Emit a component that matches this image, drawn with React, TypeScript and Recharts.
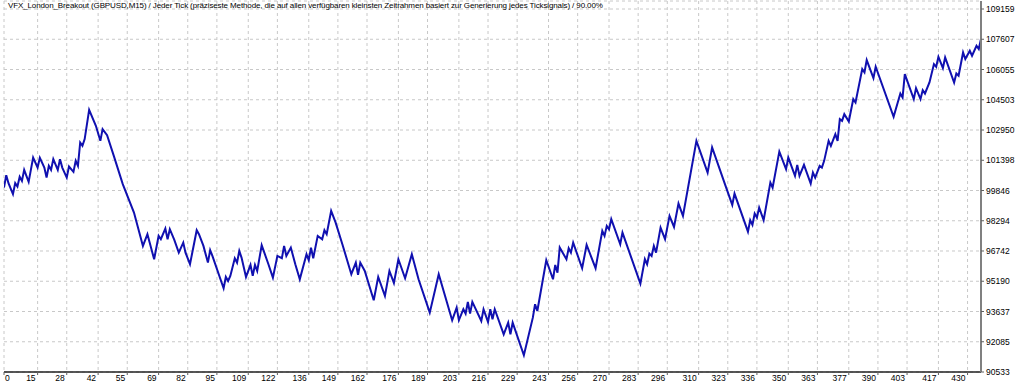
import { LineChart, Line, XAxis, YAxis, CartesianGrid } from "recharts";

const title =
  "VFX_London_Breakout (GBPUSD,M15) / Jeder Tick (präziseste Methode, die auf allen verfügbaren kleinsten Zeitrahmen basiert zur Generierung jedes Ticksignals) / 90.00%";

const xTicks = [
  0, 15, 28, 42, 55, 69, 82, 95, 109, 122, 136, 149, 162, 176, 189, 203, 216, 229, 243, 256, 270,
  283, 296, 310, 323, 336, 350, 363, 377, 390, 403, 417, 430,
];

const yTicks = [
  90533, 92085, 93637, 95190, 96742, 98294, 99846, 101398, 102950, 104503, 106055, 107607, 109159,
];

// trade number of each turning point of the balance curve
const trades = [
  0, 1, 2, 4, 5, 6, 7, 8, 9, 10, 11, 13, 15, 16, 18, 19, 20, 21, 22, 24, 25, 26, 28, 29, 31, 32,
  33, 34, 35, 36, 38, 41, 43, 44, 46, 49, 53, 58, 62, 64, 65, 67, 69, 70, 72, 73, 74, 76, 78, 80,
  81, 83, 86, 87, 89, 91, 92, 93, 98, 99, 100, 101, 103, 104, 105, 106, 108, 110, 111, 112, 113,
  115, 118, 120, 122, 124, 125, 126, 128, 130, 132, 135, 136, 137, 138, 140, 142, 143, 144, 146,
  148, 151, 155, 157, 158, 159, 161, 165, 167, 170, 172, 174, 176, 179, 182, 185, 190, 194, 200,
  202, 203, 205, 206, 207, 208, 209, 213, 214, 216, 217, 218, 219, 223, 225, 226, 227, 232, 236,
  237, 238, 242, 245, 246, 247, 248, 251, 252, 253, 254, 258, 260, 264, 267, 268, 269, 270, 271,
  275, 276, 284, 286, 287, 288, 289, 290, 291, 293, 295, 297, 299, 301, 303, 309, 314, 316, 322,
  325, 326, 332, 333, 334, 335, 336, 337, 339, 342, 343, 346, 349, 350, 353, 354, 355, 357, 360,
  361, 362, 364, 365, 366, 368, 369, 371, 372, 373, 374, 375, 377, 379, 380, 383, 384, 385, 388,
  389, 397, 400, 401, 402, 406, 407, 409, 410, 411, 413, 415, 416, 417, 419, 420, 424, 425, 426,
  428, 429, 431, 432, 434, 435, 436,
];

const balances = [
  100000, 100633, 100223, 99658, 100223, 100048, 100546, 100341, 100906, 100598, 100290, 101537,
  101024, 101522, 101024, 100510, 101111, 100906, 101455, 100906, 101455, 101024, 100510, 101075,
  100803, 101368, 101111, 102308, 102138, 102482, 103987, 103165, 102395, 102996, 102688, 101625,
  100171, 98713, 97003, 97604, 97173, 96320, 97517, 97347, 97891, 97347, 97861, 97311, 96659, 97173,
  96659, 96063, 97809, 97604, 97003, 96146, 96782, 96490, 94831, 95411, 95206, 95463, 96371, 96146,
  96746, 96402, 95411, 96027, 95463, 96027, 95719, 97039, 96063, 95375, 96490, 96371, 97003, 96490,
  96916, 96063, 95293, 96577, 96269, 96916, 96371, 97517, 97347, 97809, 97604, 98800, 98200, 97090,
  95550, 96146, 95514, 96146, 95719, 94215, 95411, 94436, 95719, 95103, 96320, 95344, 96577, 95293,
  93578, 95550, 93188, 93835, 93188, 93753, 93527, 94128, 93527, 94128, 93152, 93753, 93101, 93753,
  93239, 93753, 92469, 93065, 92469, 93065, 91391, 93321, 94009, 93665, 96269, 95293, 96027, 95632,
  96916, 96320, 96885, 96659, 97173, 95858, 97054, 95858, 97773, 97517, 98030, 97861, 98374, 97090,
  97686, 95067, 96320, 96063, 96608, 96490, 97003, 96659, 97943, 97347, 98544, 97979, 99175, 98544,
  102395, 100767, 102051, 100084, 99108, 99689, 97737, 98323, 98081, 98662, 98456, 98970, 98323,
  100254, 99997, 101845, 100942, 101537, 100598, 101162, 100598, 101162, 100202, 100767, 100510,
  101111, 101024, 101368, 102395, 102138, 102739, 102395, 103509, 103422, 103766, 103386, 104536,
  104362, 106077, 105902, 106539, 105614, 106195, 103627, 104824, 104618, 105820, 104536, 105101,
  104536, 104998, 104824, 105389, 106333, 106195, 106708, 106128, 106672, 105389, 105851, 105733,
  106929, 106590, 107016, 106760, 107273, 107104, 107617,
];

const data = trades.map((t, i) => ({ trade: t, balance: balances[i] }));

const font = "'Liberation Sans', Arial, sans-serif";

function XTick({ x, y, payload, index }: any) {
  return (
    <text
      x={index === 0 ? x + 1 : x - 2}
      y={y}
      dy="0.71em"
      textAnchor={index === 0 ? "start" : "end"}
      fontSize={8.5}
      fontFamily={font}
      fill="#000"
    >
      {payload.value}
    </text>
  );
}

export default function App() {
  return (
    <div style={{ position: "absolute", left: 0, top: 0, width: 1024, height: 387, background: "#fff" }}>
      <LineChart width={1024} height={387} data={data} margin={{ top: 1, right: 0, bottom: 0, left: 4 }}>
        <CartesianGrid yAxisId="bal" stroke="#c8c8c8" strokeDasharray="3 3" />
        <XAxis
          dataKey="trade"
          type="number"
          domain={[0, 436]}
          ticks={xTicks}
          interval={0}
          allowDataOverflow
          height={15}
          tickSize={3}
          tickMargin={0}
          tick={<XTick />}
          axisLine={{ stroke: "#202020", strokeWidth: 1.5 }}
          tickLine={{ stroke: "#606060" }}
        />
        <YAxis
          yAxisId="frame"
          orientation="left"
          width={0}
          tick={false}
          tickLine={false}
          axisLine={{ stroke: "#505050", strokeWidth: 1.5 }}
        />
        <YAxis
          yAxisId="bal"
          orientation="right"
          domain={[90533, 109570]}
          ticks={yTicks}
          interval={0}
          allowDataOverflow
          width={43}
          tickSize={3}
          tickMargin={2}
          tick={{ fontSize: 8.5, fontFamily: font, fill: "#000" }}
          axisLine={{ stroke: "#808080", strokeWidth: 2 }}
          tickLine={{ stroke: "#606060" }}
        />
        <Line
          yAxisId="bal"
          dataKey="balance"
          type="linear"
          stroke="#1010b0"
          strokeWidth={2}
          dot={false}
          isAnimationActive={false}
        />
      </LineChart>
      <div
        style={{
          position: "absolute",
          left: 8,
          top: 1,
          fontSize: 8,
          fontFamily: font,
          color: "#000",
          whiteSpace: "nowrap",
          lineHeight: "10px",
          letterSpacing: "-0.12px",
        }}
      >
        {title}
      </div>
    </div>
  );
}
